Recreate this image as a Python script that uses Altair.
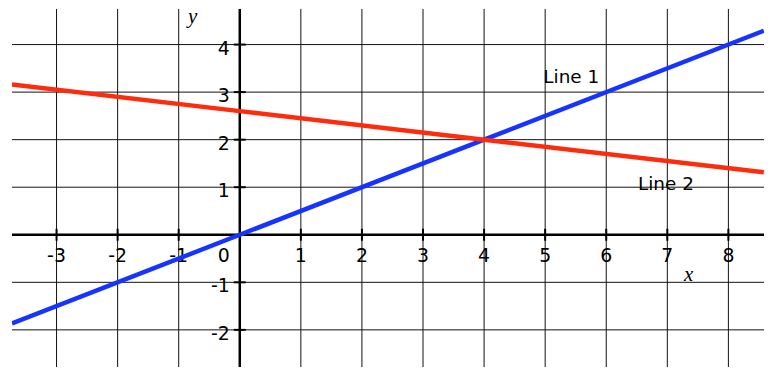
import altair as alt
import pandas as pd

# ---- data ----
x_grid = [-3, -2, -1, 0, 1, 2, 3, 4, 5, 6, 7, 8]
y_grid = [-2, -1, 0, 1, 2, 3, 4]
x_tick_labels = [-3, -2, -1, 1, 2, 3, 4, 5, 6, 7, 8]
y_tick_labels = [-2, -1, 1, 2, 3, 4]

line1_x = [-3.73, 0, 4, 8.58]
line1_y = [-1.865, 0, 2, 4.29]
line2_x = [-3.73, 0, 4, 8.58]
line2_y = [3.16, 2.6, 2, 1.313]

line_names = ["Line 1", "Line 2"]
line_colors = ["#1733ff", "#ff2b0d"]
line_label_x = [4.97, 6.52]
line_label_y = [3.20, 0.94]

axis_names = ["x", "y"]
axis_name_x = [7.35, -0.77]
axis_name_y = [-0.98, 4.45]

X_DOMAIN = [-3.7296, 8.583]
Y_DOMAIN = [-2.782, 4.749]

# ---- tables ----
xs = alt.Scale(domain=X_DOMAIN, nice=False, zero=False)
ys = alt.Scale(domain=Y_DOMAIN, nice=False, zero=False)

vgrid = pd.DataFrame({"v": x_grid})
hgrid = pd.DataFrame({"v": y_grid})
xticks = pd.DataFrame({"x": x_tick_labels, "y": [0] * len(x_tick_labels),
                       "t": [str(v) for v in x_tick_labels]})
yticks = pd.DataFrame({"x": [0] * len(y_tick_labels), "y": y_tick_labels,
                       "t": [str(v) for v in y_tick_labels]})
origin = pd.DataFrame({"x": [0], "y": [0], "t": ["0"]})
lines = pd.DataFrame({
    "x": line1_x + line2_x,
    "y": line1_y + line2_y,
    "name": [line_names[0]] * len(line1_x) + [line_names[1]] * len(line2_x),
})
line_labels = pd.DataFrame({"x": line_label_x, "y": line_label_y, "t": line_names})
axis_labels = pd.DataFrame({"x": axis_name_x, "y": axis_name_y, "t": axis_names})

X = lambda f: alt.X(f, type="quantitative", scale=xs, axis=None)
Y = lambda f: alt.Y(f, type="quantitative", scale=ys, axis=None)

FONT = "DejaVu Sans"

grid_v = alt.Chart(vgrid).mark_rule(color="#111", strokeWidth=1).encode(x=X("v"))
grid_h = alt.Chart(hgrid).mark_rule(color="#111", strokeWidth=1).encode(y=Y("v"))

xlab = alt.Chart(xticks).mark_text(
    align="center", baseline="middle", dy=21, fontSize=19, font=FONT, color="black"
).encode(x=X("x"), y=Y("y"), text="t:N")
ylab = alt.Chart(yticks).mark_text(
    align="right", baseline="middle", dx=-10, dy=4, fontSize=19, font=FONT, color="black"
).encode(x=X("x"), y=Y("y"), text="t:N")
olab = alt.Chart(origin).mark_text(
    align="right", baseline="middle", dx=-10, dy=21, fontSize=19, font=FONT, color="black"
).encode(x=X("x"), y=Y("y"), text="t:N")

x_axis = alt.Chart(origin).mark_rule(color="black", strokeWidth=2.5).encode(y=Y("y"))
y_axis = alt.Chart(origin).mark_rule(color="black", strokeWidth=2.5).encode(x=X("x"))

xtk = alt.Chart(xticks).mark_tick(
    orient="vertical", size=12, thickness=2, color="black", opacity=1
).encode(x=X("x"), y=Y("y"))
ytk = alt.Chart(yticks).mark_tick(
    orient="horizontal", size=12, thickness=2, color="black", opacity=1
).encode(x=X("x"), y=Y("y"))

line_layer = alt.Chart(lines).mark_line(strokeWidth=4.5, clip=True).encode(
    x=X("x"), y=Y("y"),
    color=alt.Color("name:N", scale=alt.Scale(domain=line_names, range=line_colors), legend=None),
    order=alt.Order("x:Q"),
)

ltext = alt.Chart(line_labels).mark_text(
    align="left", baseline="alphabetic", fontSize=18.5, font=FONT, color="black"
).encode(x=X("x"), y=Y("y"), text="t:N")

atext = alt.Chart(axis_labels).mark_text(
    align="center", baseline="alphabetic", fontSize=21, font="Liberation Serif",
    fontStyle="italic", color="black"
).encode(x=X("x"), y=Y("y"), text="t:N")

chart = alt.layer(
    grid_v, grid_h, xlab, ylab, olab, ltext, atext, x_axis, y_axis, xtk, ytk, line_layer
).properties(
    width=756, height=360,
    autosize=alt.AutoSizeParams(type="none"),
    padding={"left": 4, "top": 0, "right": 0, "bottom": 0},
).configure_view(stroke=None)

chart.save("out.html", embed_options={"renderer": "svg", "actions": False})
